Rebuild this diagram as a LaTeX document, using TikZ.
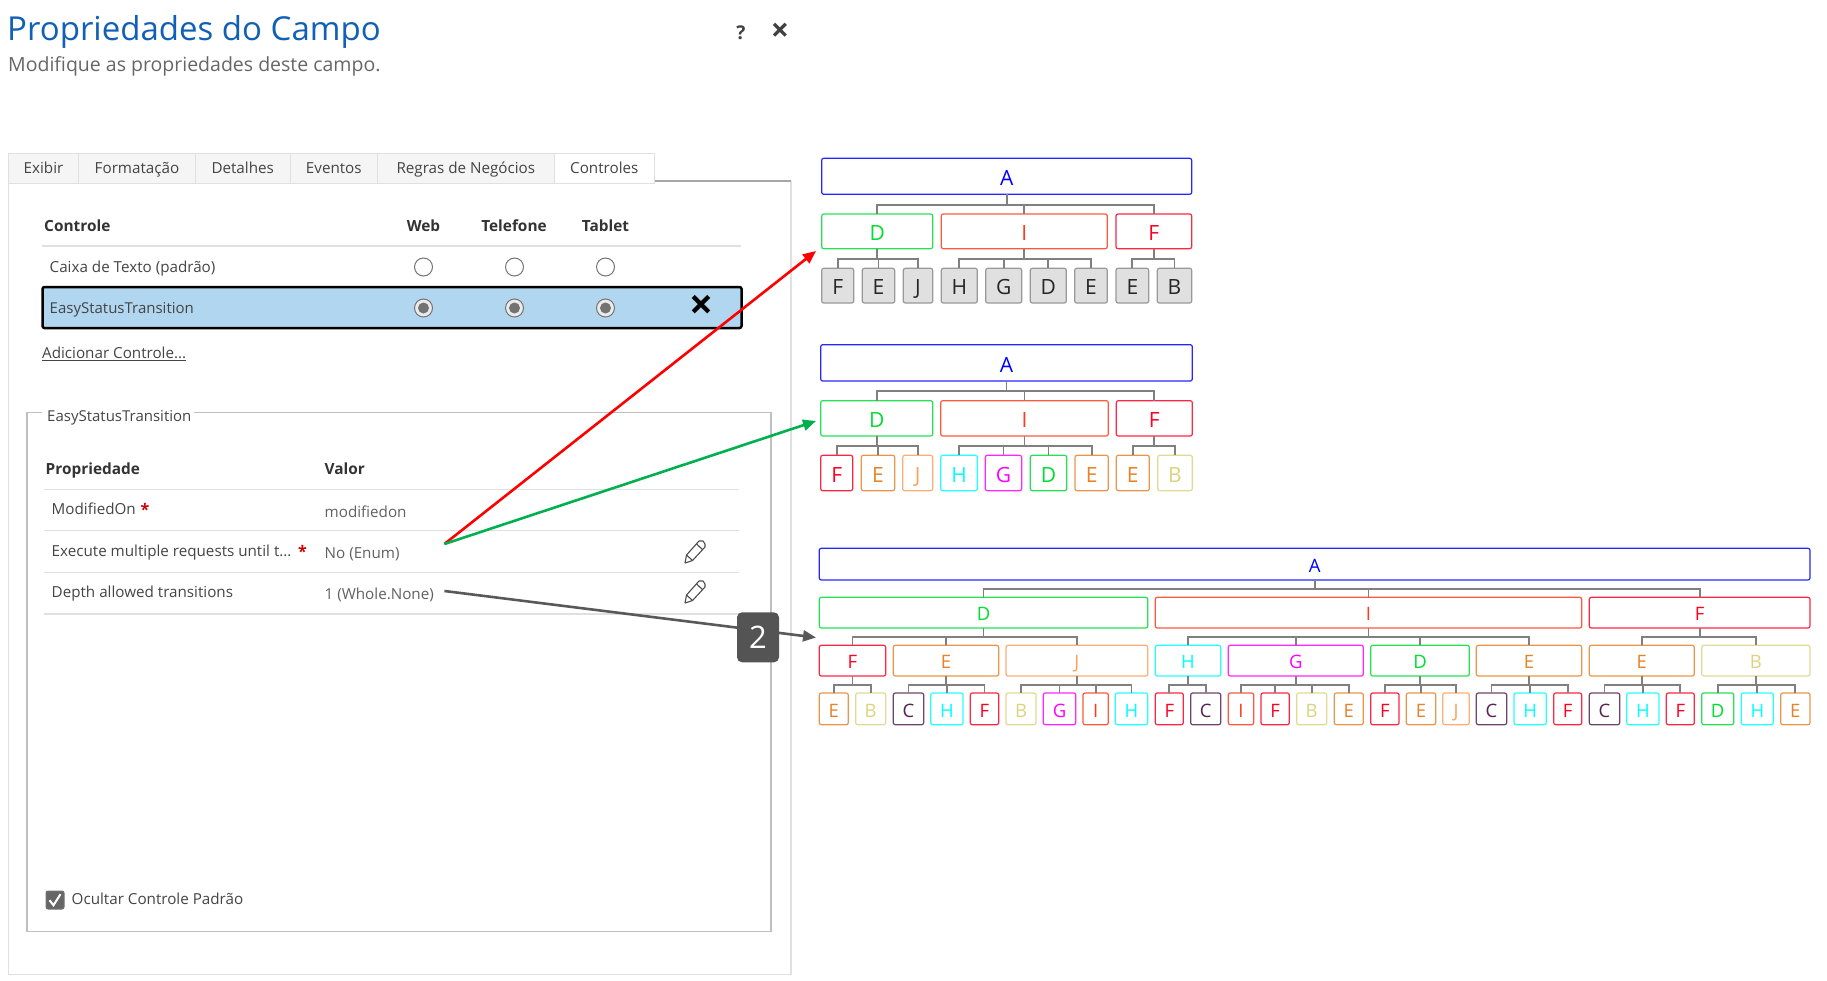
\documentclass[tikz,border=0pt]{standalone}
\usepackage{fontspec}
\setmainfont{Open Sans}
\usetikzlibrary{arrows.meta}
\definecolor{cA}{HTML}{0000FF}
\definecolor{cD}{HTML}{00DD33}
\definecolor{cI}{HTML}{FF3A1A}
\definecolor{cF}{HTML}{FF0022}
\definecolor{cE}{HTML}{E5832A}
\definecolor{cJ}{HTML}{FF9F5A}
\definecolor{cH}{HTML}{00FFFF}
\definecolor{cG}{HTML}{FF00FF}
\definecolor{cB}{HTML}{DDD37F}
\definecolor{cC}{HTML}{552255}
\definecolor{titleblue}{HTML}{1160B7}
\definecolor{uitext}{HTML}{444444}
\definecolor{rowblue}{HTML}{B1D6F0}
\definecolor{arrowred}{HTML}{FF0000}
\definecolor{arrowgreen}{HTML}{00B050}
\tikzset{
    tbox/.style={draw=#1!85!white, text=#1, line width=1.2pt, rounded corners=2pt, inner sep=0pt, outer sep=0pt, fill=white},
    nA/.style={tbox=cA}, nD/.style={tbox=cD}, nI/.style={tbox=cI}, nF/.style={tbox=cF}, nE/.style={tbox=cE},
    nJ/.style={tbox=cJ}, nH/.style={tbox=cH}, nG/.style={tbox=cG}, nB/.style={tbox=cB}, nC/.style={tbox=cC},
    nK/.style={draw=black!40, fill=black!12, text=black!85, line width=1.2pt, rounded corners=2pt, inner sep=0pt, outer sep=0pt},
    treeline/.style={draw=black!50, line width=1.8pt},
    uilabel/.style={anchor=west, inner sep=0pt, text=uitext, font=\fontsize{15.2}{18}\selectfont, text height=12pt, text depth=3pt},
    uihead/.style={uilabel, text=black!80, font=\fontsize{15.4}{18}\selectfont\bfseries},
    uihcol/.style={uihead, anchor=center},
    uivalue/.style={uilabel, text=black!62},
    uistar/.style={inner sep=0pt, text=red!80!black, font=\fontsize{16}{18}\selectfont\bfseries},
    uirule/.style={draw=black!12, line width=1.2pt},
    tabbox/.style={draw=black!12, fill=black!4, line width=1pt, inner sep=0pt, outer sep=0pt, text=uitext, minimum height=30pt, text height=12pt, text depth=3pt, font=\fontsize{15.2}{18}\selectfont},
    radiobtn/.style={circle, draw=black!55, fill=white, line width=1pt, minimum size=18pt, inner sep=0pt},
    radiodot/.style={circle, fill=black!55, minimum size=11pt, inner sep=0pt},
    pencil/.pic={
        \draw[black!70, line width=1.1pt, line join=round] (-10,11) -- (-8.5,3) -- (4,-11) -- (8,-11) -- (10,-8) -- (10,-5) -- (-2.5,8.5) -- cycle;
        \draw[black!70, line width=1.1pt] (-8.5,3) -- (-2.5,8.5) (1.5,-8) -- (7.5,-2.5);
    },
}
\newcommand{\treerow}[4]{%
    \foreach \nm/\xa/\xb/\sty/\lbl in {#4} {
        \node[\sty, minimum width={\xb-\xa}, minimum height={#2-#1}, text height={#3*0.71+3.5}, text depth=0pt,
            font=\fontsize{#3}{20}\selectfont] (\nm) at ({(\xa+\xb)/2},{(#1+#2)/2}) {\lbl};
    }
}
\newcommand{\treelinks}[2]{%
    \foreach \pn/\cn in {#2} {
        \draw[treeline] (\pn.south) -- ++(0,#1) -| (\cn.north);
    }
}
\begin{document}
\begin{tikzpicture}[x=1pt, y=-1pt]
    \useasboundingbox (0,0) rectangle (1827,980);

    % heading
    \node[anchor=base west, inner sep=0pt, text=titleblue, font=\fontsize{33}{36}\selectfont] (title) at (7,40.5) {Propriedades do Campo};
    \node[anchor=base west, inner sep=0pt, text=black!60, font=\fontsize{19.5}{24}\selectfont] (subtitle) at (8,71) {Modifique as propriedades deste campo.};
    \node[inner sep=0pt, text=black!75, font=\fontsize{19}{20}\selectfont\bfseries] (helpmark) at (741,32.5) {?};
    \node[inner sep=0pt, text=black!75, font=\fontsize{32}{32}\selectfont\bfseries] (closemark) at (780,32.5) {×};

    % panel and tabs
    \draw[draw=black!12, line width=1.2pt] (8.5,183) -- (8.5,974.5) -- (791,974.5) -- (791,181);
    \draw[draw=black!35, line width=1.5pt] (654,181) -- (791,181);
    \foreach \nm/\xa/\xb/\lbl in {tabexibir/8.5/78.6/Exibir, tabformat/78.6/195.4/Formatação, tabdetalhes/195.4/290/Detalhes, tabeventos/290/377.6/Eventos, tabregras/377.6/554/Regras de Negócios} {
        \node[tabbox, minimum width={\xb-\xa}] (\nm) at ({(\xa+\xb)/2},168.5) {\lbl};
    }
    \node[tabbox, fill=white, minimum width=100.6pt] (tabcontroles) at (604.3,168.5) {Controles};

    % controls table
    \node[uihead] (colcontrole) at (44,227) {Controle};
    \node[uihcol] (colweb) at (423.5,227) {Web};
    \node[uihcol] (coltel) at (514,227) {Telefone};
    \node[uihcol] (coltab) at (605.5,227) {Tablet};
    \draw[uirule, line width=1.6pt] (42,246) -- (741,246);
    \node[uilabel] (rowcaixa) at (49.5,268) {Caixa de Texto (padrão)};
    \foreach \nm/\xx in {rcweb/423.5, rctel/514.5, rctab/605.5} {
        \node[radiobtn] (\nm) at (\xx,267) {};
    }
    \path[draw=black, fill=rowblue, line width=2.5pt, rounded corners=2pt] (42.5,287) rectangle (741.5,328);
    \node[uilabel, font=\fontsize{15}{18}\selectfont] (rowplugin) at (49.5,309) {EasyStatusTransition};
    \foreach \nm/\xx in {rpweb/423.5, rptel/514.5, rptab/605.5} {
        \node[radiobtn, fill=black!8] (\nm) at (\xx,308) {};
        \node[radiodot] at (\nm) {};
    }
    \node[inner sep=0pt, text=black, font=\fontsize{42}{42}\selectfont\bfseries] (removemark) at (701,307.5) {×};
    \node[uilabel] (addcontrol) at (42,354) {\underline{Adicionar Controle...}};

    % property group
    \draw[draw=black!25, line width=1.2pt] (42,412.5) -- (27,412.5) -- (27,931.5) -- (771,931.5) -- (771,412.5) -- (194,412.5);
    \node[uilabel, font=\fontsize{15}{18}\selectfont] (legend) at (47,416.5) {EasyStatusTransition};
    \node[uihead] (colprop) at (45.5,469.5) {Propriedade};
    \node[uihead] (colvalor) at (324.5,469.5) {Valor};
    \draw[uirule] (43.5,489.7) -- (739,489.7);
    \node[uilabel] (propmod) at (51.5,510) {ModifiedOn};
    \node[uistar] (starmod) at (145,509.5) {*};
    \node[uivalue] (valmod) at (324.5,512.5) {modifiedon};
    \draw[uirule, line width=1.6pt] (43.5,530.5) -- (739,530.5);
    \node[uilabel] (propexec) at (51.5,551.5) {Execute multiple requests until t...};
    \node[uistar] (starexec) at (302.5,551) {*};
    \node[uivalue] (valexec) at (324.5,554) {No (Enum)};
    \pic at (695,552) {pencil};
    \draw[uirule, line width=1.6pt] (43.5,572.5) -- (739,572.5);
    \node[uilabel] (propdepth) at (51.5,593) {Depth allowed transitions};
    \node[uivalue] (valdepth) at (324.5,595) {1 (Whole.None)};
    \pic at (695,592) {pencil};
    \draw[uirule] (43.5,614) -- (739,614);

    % hide default control
    \node[draw=black!55, fill=black!60, rounded corners=2pt, minimum size=18pt, inner sep=0pt, line width=1pt] (hidebox) at (55,900) {};
    \draw[white, line width=2pt] (49.5,900.2) -- (53.5,905.2) -- (60.5,894.2);
    \node[uilabel] (hidelabel) at (71.5,899.8) {Ocultar Controle Padrão};

    % first tree
    \treerow{158.3}{194.3}{21}{ta/821.7/1191.7/nA/A}
    \treerow{214}{248.7}{21}{tad/821.7/932.7/nD/D, tai/941.3/1107.3/nI/I, taf/1116/1191.7/nF/F}
    \treerow{268.3}{303}{21}{tadf/821.7/853.7/nK/F, tade/862.3/894.7/nK/E, tadj/903.3/932.7/nK/J, taih/941.3/977.3/nK/H, taig/985.7/1021.7/nK/G, taid/1030.3/1066.3/nK/D, taie/1074.7/1107.3/nK/E, tafe/1116/1148.7/nK/E, tafb/1157.3/1191.7/nK/B}
    \treelinks{10.7}{ta/tad, ta/tai, ta/taf}
    \treelinks{10}{tad/tadf, tad/tade, tad/tadj, tai/taih, tai/taig, tai/taid, tai/taie, taf/tafe, taf/tafb}

    % second tree
    \treerow{344.7}{381}{21}{tb/820.7/1192.3/nA/A}
    \treerow{400.7}{436}{21}{tbd/820.7/932.7/nD/D, tbi/940.7/1108.3/nI/I, tbf/1116.3/1192.3/nF/F}
    \treerow{455.3}{490.7}{21}{tbdf/820.7/852.7/nF/F, tbde/861.3/894.7/nE/E, tbdj/902.7/932.7/nJ/J, tbih/940.7/977.3/nH/H, tbig/985.3/1021.7/nG/G, tbid/1030.3/1066.7/nD/D, tbie/1075/1108.3/nE/E, tbfe/1116.3/1149.3/nE/E, tbfb/1157.7/1192.3/nB/B}
    \treelinks{10.3}{tb/tbd, tb/tbi, tb/tbf}
    \treelinks{9.7}{tbd/tbdf, tbd/tbde, tbd/tbdj, tbi/tbih, tbi/tbig, tbi/tbid, tbi/tbie, tbf/tbfe, tbf/tbfb}

    % third tree
    \treerow{548.3}{580}{18.5}{tc/819.3/1810/nA/A}
    \treerow{597.3}{628}{18.5}{tcd/819.3/1147.7/nD/D, tci/1155.3/1581.7/nI/I, tcf/1589.3/1810/nF/F}
    \treerow{645.3}{676}{18.5}{tcdf/819.3/885.7/nF/F, tcde/893.3/998.7/nE/E, tcdj/1006/1147.7/nJ/J, tcih/1155.3/1220.7/nH/H, tcig/1228.3/1363.3/nG/G, tcid/1370.7/1469.3/nD/D, tcie/1476.3/1581.7/nE/E, tcfe/1589.3/1694.3/nE/E, tcfb/1701.7/1810/nB/B}
    \treerow{693}{724.7}{18.5}{tcdfe/819.3/848.3/nE/E, tcdfb/855.7/885.7/nB/B, tcdec/893.3/923.7/nC/C, tcdeh/930.7/963/nH/H, tcdef/970.3/998.7/nF/F, tcdjb/1006/1036/nB/B, tcdjg/1043.3/1075.7/nG/G, tcdji/1083/1108.3/nI/I, tcdjh/1115.3/1147.7/nH/H, tcihf/1155.3/1183.3/nF/F, tcihc/1190.7/1220.7/nC/C, tcigi/1228.3/1253.7/nI/I, tcigf/1261/1289.3/nF/F, tcigb/1296.7/1326.7/nB/B, tcige/1334.3/1363.3/nE/E, tcidf/1370.7/1399/nF/F, tcide/1406.3/1435.7/nE/E, tcidj/1442.7/1469.3/nJ/J, tciec/1476.3/1506.7/nC/C, tcieh/1514/1546.3/nH/H, tcief/1553.7/1581.7/nF/F, tcfec/1589.3/1619.7/nC/C, tcfeh/1626.7/1659/nH/H, tcfef/1666.3/1694.3/nF/F, tcfbd/1701.7/1733.7/nD/D, tcfbh/1741.3/1773.3/nH/H, tcfbe/1780.7/1810/nE/E}
    \treelinks{9}{tc/tcd, tc/tci, tc/tcf}
    \treelinks{8.7}{tcd/tcdf, tcd/tcde, tcd/tcdj, tci/tcih, tci/tcig, tci/tcid, tci/tcie, tcf/tcfe, tcf/tcfb}
    \treelinks{8.7}{tcdf/tcdfe, tcdf/tcdfb, tcde/tcdec, tcde/tcdeh, tcde/tcdef, tcdj/tcdjb, tcdj/tcdjg, tcdj/tcdji, tcdj/tcdjh, tcih/tcihf, tcih/tcihc, tcig/tcigi, tcig/tcigf, tcig/tcigb, tcig/tcige, tcid/tcidf, tcid/tcide, tcid/tcidj, tcie/tciec, tcie/tcieh, tcie/tcief, tcfe/tcfec, tcfe/tcfeh, tcfe/tcfef, tcfb/tcfbd, tcfb/tcfbh, tcfb/tcfbe}

    % arrows from the panel to the trees
    \coordinate (execpoint) at (444.4,544);
    \coordinate (depthpoint) at (444.4,591);
    \coordinate (redtip) at (816,251);
    \coordinate (greentip) at (816,421);
    \coordinate (greytip) at (816,637.5);
    \draw[-{Triangle[length=13pt,width=11pt]}, draw=arrowred, line width=2.6pt] (execpoint) -- (redtip);
    \draw[-{Triangle[length=13pt,width=11pt]}, draw=arrowgreen, line width=2.6pt] (execpoint) -- (greentip);
    \draw[-{Triangle[length=13pt,width=11pt]}, draw=black!65, line width=2.6pt] (depthpoint) -- (greytip);
    \node[fill=black!67, text=white, rounded corners=5pt, minimum width=42pt, minimum height=50pt, inner sep=0pt, font=\fontsize{31}{32}\selectfont] (badge) at (758,637.3) {2};
\end{tikzpicture}
\end{document}
